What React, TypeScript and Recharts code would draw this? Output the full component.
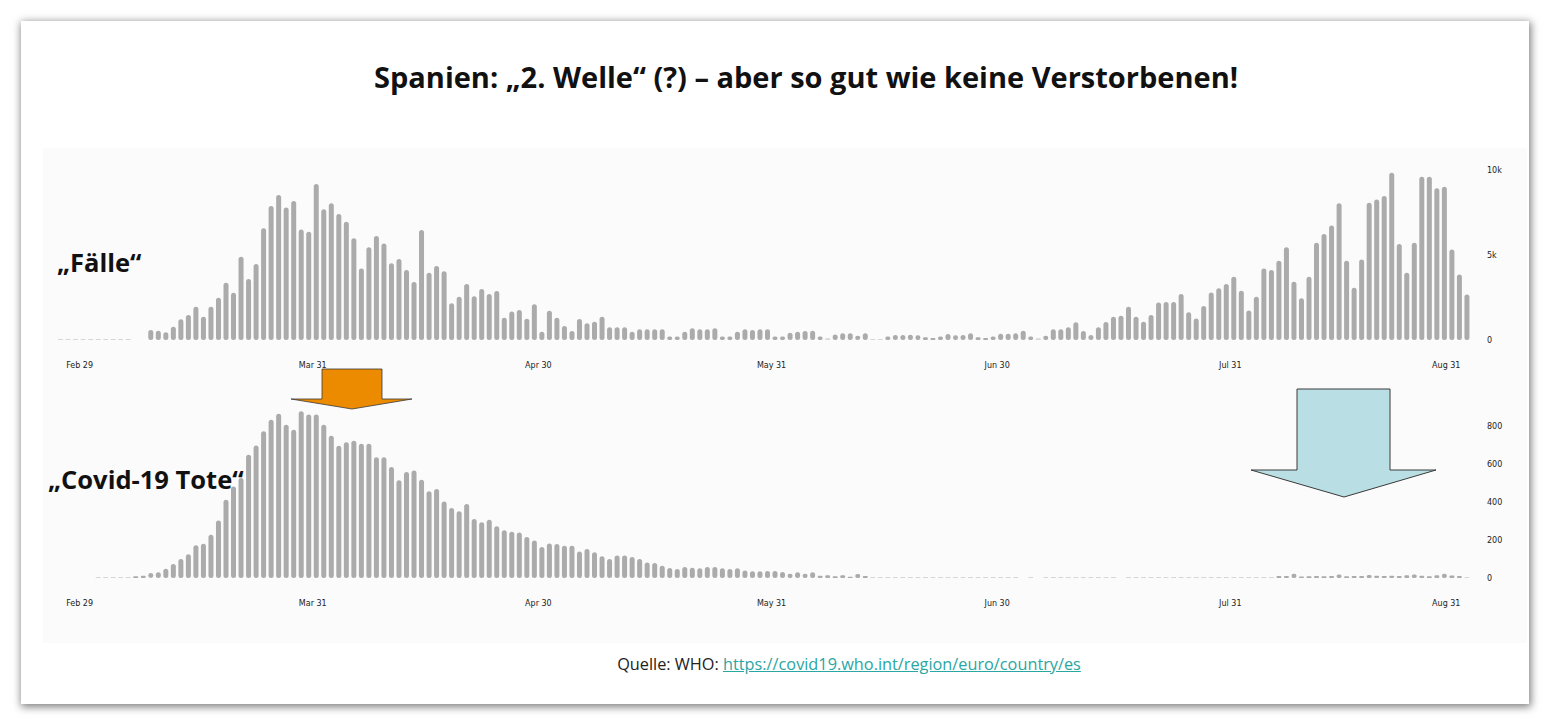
import React from "react";
import { BarChart, Bar, XAxis, YAxis, Cell } from "recharts";

// Tageswerte ab 26.02.2020 (Index 0), null = kein Wert gemeldet
const START_DATE = "2020-02-26";

const cases: (number | null)[] = [
  0, 0, 0, 10, 10, 20, 20, 30, 40, 60,
  null, null,
  590, 550, 450, 780, 1215, 1470, 1960, 1370, 1960, 2490,
  3370, 2780, 4900, 3590, 4470, 6570, 7880, 8530, 7800, 8170,
  6500, 6370, 9170, 7690, 8040, 7410, 6960, 5980, 4210, 5450,
  6120, 5680, 4510, 4760, 4120, 3410, 6470, 3960, 4350, 4040,
  2160, 2550, 3290, 2570, 3000, 2700, 2880, 1310, 1670, 1760, 1250, 2100,
  490, 1720, 1310, 820, 530, 1235, 980, 1080, 1370, 745,
  745, 745, 490, 630, 630, 630, 630, 200, 200, 490,
  690, 630, 630, 690, 200, 200, 490, 630, 590, 630,
  630, 200, 200, 430, 490, 530, 550, 200, 100, 330, 390, 390,
  255, 390, 60, 60, 200, 300, 300, 310, 275, 160,
  120, 200, 350, 275, 300, 390, 160, 120, 200, 370,
  370, 390, 550, 200,
  100, 255, 630, 630, 745, 1040, 530, 295, 745, 1060,
  1370, 1430, 1960, 1370, 1080, 1470, 2200, 2240, 2240, 2700,
  1630, 1270, 2000, 2800, 3040, 3290, 3720, 2900, 1730, 2550,
  4210, 4120, 4660, 5450, 3430, 2450, 3720, 5720, 6230, 6740,
  8040, 4660, 3080, 4740, 8080, 8270, 8470, 9840, 5650, 3960,
  5720, 9610, 9610, 8920, 9020, 5330, 3860, 2670,
];

const deaths: (number | null)[] = [
  null, null, null, null, null,
  0, 0, 0, 1, 1,
  9, 12, 26, 30, 49, 74, 100, 125, 172, 180,
  228, 302, 412, 482, 526, 649, 698, 772, 833, 865,
  807, 780, 877, 861, 860, 807, 749, 696, 714, 723,
  707, 707, 635, 635, 584, 514, 558, 566, 517, 456,
  468, 402, 368, 351, 389, 310, 293, 307, 272,
  251, 244, 240, 216, 198, 163, 182, 179, 170, 170,
  140, 153, 135, 114, 100, 118, 118, 110, 100, 82,
  79, 65, 53, 47, 58, 54, 51, 58, 58, 51,
  47, 51, 39, 35, 35, 37, 37, 32, 23, 30,
  23, 30, 12, 14, 9, 14, 7, 21, 10, 5,
  5, 5, 5,
  3, 2, 2, 3, 2, 2, 2, 1, 2, 2, 1, 2, 4, 4, 3, 3,
  null, 2, null,
  1, 2, 1, 1, 2, 1, 2, 1, 1, 2,
  null,
  2, 2, 3, 2, 3, 3, 2, 3, 4, 3, 3, 4, 3, 3, 4, 4, 3, 4, 5, 4,
  10, 10, 22, 8, 9, 10, 9, 11, 18, 9,
  10, 11, 16, 12, 10, 12, 11, 14, 18, 12,
  9, 14, 22, 13, 11, 4,
];

const tickDates = ["2020-02-29", "2020-03-31", "2020-04-30", "2020-05-31", "2020-06-30", "2020-07-31", "2020-08-31"];
const tickLabels = ["Feb 29", "Mar 31", "Apr 30", "May 31", "Jun 30", "Jul 31", "Aug 31"];

const casesTicks = [0, 5000, 10000];
const deathsTicks = [0, 200, 400, 600, 800];

const dayOffset = (iso: string) =>
  Math.round((Date.parse(iso) - Date.parse(START_DATE)) / 86400000);

const xTicks = tickDates.map(dayOffset);
const lastTick = xTicks[xTicks.length - 1];

// Balken mittig im Tag (Tag + 0.5), Ticks am Tagesbeginn
const toRows = (values: (number | null)[]) =>
  values.flatMap((v, i) => (v == null ? [] : [{ t: i + 0.5, v }]));

const caseRows = toRows(cases);
const deathRows = toRows(deaths);

const BAR = "#ababab";
const BAR_LIGHT = "#d6d6d6";
const AXIS_FONT = "DejaVu Sans, Verdana, sans-serif";

const DateTick = (props: any) => {
  const { x, y, payload } = props;
  const isLast = payload.value === lastTick;
  const label = tickLabels[xTicks.indexOf(payload.value)];
  return (
    <text
      x={isLast ? x - 3 : x}
      y={y + 25}
      textAnchor={isLast ? "end" : "middle"}
      dominantBaseline="central"
      fontSize={8}
      fontFamily={AXIS_FONT}
      fill="#222"
    >
      {label}
    </text>
  );
};

const kFormat = (v: number) => (v === 0 ? "0" : `${v / 1000}k`);

function DailyBars({
  rows,
  top,
  height,
  max,
  ticks,
  format,
  light,
}: {
  rows: { t: number; v: number }[];
  top: number;
  height: number;
  max: number;
  ticks: number[];
  format?: (v: number) => string;
  light: number;
}) {
  return (
    <div style={{ position: "absolute", left: 0, top }}>
      <BarChart
        width={1550}
        height={height}
        data={rows}
        margin={{ top: 10, right: 24, bottom: 0, left: 42 }}
      >
        <XAxis
          dataKey="t"
          type="number"
          domain={[-2, 190]}
          ticks={xTicks}
          tick={<DateTick />}
          axisLine={false}
          tickLine={false}
          tickSize={0}
          tickMargin={0}
          height={30}
          interval={0}
        />
        <YAxis
          orientation="right"
          domain={[0, max]}
          ticks={ticks}
          tickFormatter={format}
          axisLine={false}
          tickLine={false}
          tickSize={0}
          tickMargin={1}
          width={40}
          tick={{ fontSize: 8, fill: "#222", fontFamily: AXIS_FONT }}
        />
        <Bar
          dataKey="v"
          barSize={5}
          radius={2.5}
          minPointSize={1}
          isAnimationActive={false}
        >
          {rows.map((r, i) => (
            <Cell key={i} fill={r.v < light ? BAR_LIGHT : BAR} />
          ))}
        </Bar>
      </BarChart>
    </div>
  );
}

const labelStyle: React.CSSProperties = {
  position: "absolute",
  whiteSpace: "nowrap",
  fontFamily: "'Open Sans', sans-serif",
  fontWeight: 700,
  fontSize: 25.5,
  lineHeight: "34px",
  color: "#111",
};

export default function App() {
  return (
    <div
      style={{
        position: "absolute",
        left: 0,
        top: 0,
        width: 1550,
        height: 725,
        background: "#ffffff",
        overflow: "hidden",
      }}
    >
      <div
        style={{
          position: "absolute",
          left: 21,
          top: 21,
          width: 1508,
          height: 683,
          background: "#ffffff",
          boxShadow: "1px 2px 8px 1px rgba(0,0,0,0.5)",
        }}
      />
      <div
        style={{
          position: "absolute",
          left: 43,
          top: 148,
          width: 1484,
          height: 495,
          background: "#fbfbfb",
        }}
      />
      <div
        style={{
          position: "absolute",
          left: 806,
          top: 58,
          transform: "translateX(-50%)",
          whiteSpace: "nowrap",
          fontFamily: "'Open Sans', sans-serif",
          fontWeight: 700,
          fontSize: 29,
          lineHeight: "38px",
          color: "#111",
        }}
      >
        Spanien: „2. Welle“ (?) – aber so gut wie keine Verstorbenen!
      </div>

      <DailyBars rows={caseRows} top={160} height={210} max={10000} ticks={casesTicks} format={kFormat} light={120} />
      <DailyBars rows={deathRows} top={378} height={230} max={1000} ticks={deathsTicks} light={6} />

      <div style={{ ...labelStyle, left: 57, top: 245 }}>„Fälle“</div>
      <div style={{ ...labelStyle, left: 48, top: 462 }}>„Covid-19 Tote“</div>

      <svg
        width={1550}
        height={725}
        style={{ position: "absolute", left: 0, top: 0, pointerEvents: "none" }}
      >
        <polygon
          points="322,369 382,369 382,399 412,399 352,409 291,399 322,399"
          fill="#ec8a00"
          stroke="#3a3a3a"
          strokeWidth={0.8}
        />
        <polygon
          points="1297,389 1390,389 1390,470 1436,470 1344,497 1251,470 1297,470"
          fill="#b9dfe4"
          stroke="#3a3a3a"
          strokeWidth={1}
        />
      </svg>

      <div
        style={{
          position: "absolute",
          left: 849,
          top: 652,
          transform: "translateX(-50%)",
          whiteSpace: "nowrap",
          fontFamily: "'Open Sans', sans-serif",
          fontSize: 16.3,
          lineHeight: "24px",
          color: "#222",
        }}
      >
        Quelle: WHO:{" "}
        <span style={{ color: "#2aa6a3", textDecoration: "underline" }}>
          https://covid19.who.int/region/euro/country/es
        </span>
      </div>
    </div>
  );
}
